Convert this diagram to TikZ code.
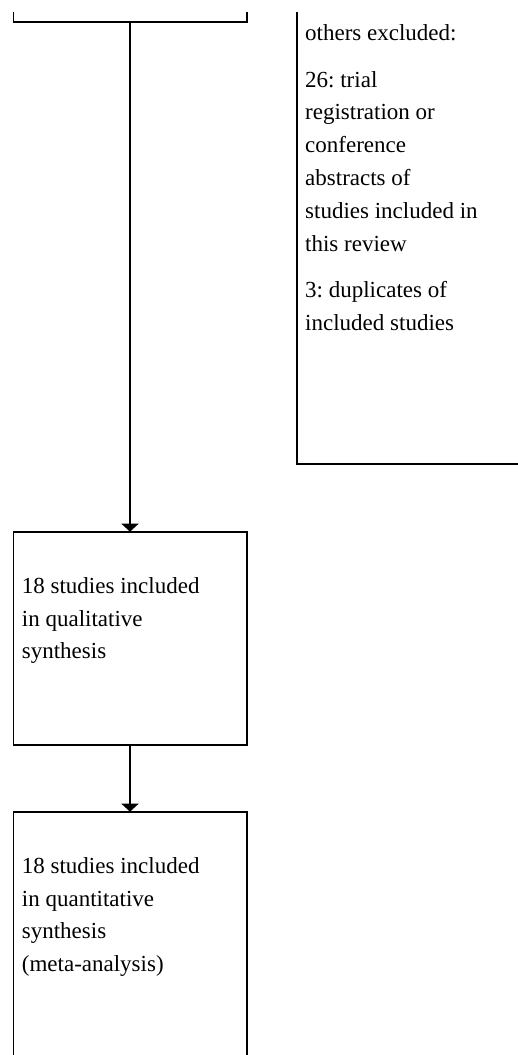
\documentclass[tikz,border=0pt]{standalone}
\usepackage{fontspec}
\setmainfont{Liberation Serif}
\usepackage{tikz}
\usetikzlibrary{arrows.meta, positioning}
\frenchspacing

\begin{document}
\begin{tikzpicture}[
    x=1pt, y=-1pt,
    every node/.style={font=\fontsize{23}{32.8}\selectfont, align=left},
    box/.style={draw=black, line width=1.6pt, rectangle, inner sep=0pt, outer sep=0pt, minimum width=233.4pt},
    widebox/.style={draw=black, line width=1.6pt, rectangle, inner sep=0pt, outer sep=0pt, minimum width=300pt, minimum height=600pt},
    boxtext/.style={anchor=north west, inner sep=0pt},
    arr/.style={line width=1.6pt, -{Triangle[width=17pt, length=8pt]}}
]
\useasboundingbox (0,0) rectangle (518,1055);
\clip (0,12) rectangle (518,1055);
\node[box, minimum height=100pt, anchor=south] (elig) at (130,21.7) {};
\node[widebox, anchor=south west] (excl) at (297,464) {};
\node[boxtext] (excltext) at (305,17.04) {\strut others excluded:\\[14pt]26: trial\\registration or\\conference\\abstracts of\\studies included in\\this review\\[14pt]3: duplicates of\\included studies};
\node[box, minimum height=213.3pt, anchor=north] (qual) at (130,531.7) {};
\node[boxtext] (qualtext) at (21.7,570.04) {\strut 18 studies included\\in qualitative\\synthesis};
\node[box, minimum height=300pt, anchor=north] (quant) at (130,811.7) {};
\node[boxtext] (quanttext) at (21.7,850.04) {\strut 18 studies included\\in quantitative\\synthesis\\(meta-analysis)};
\draw[arr] (elig.south) -- (qual.north);
\draw[arr] (qual.south) -- (quant.north);
\end{tikzpicture}
\end{document}
